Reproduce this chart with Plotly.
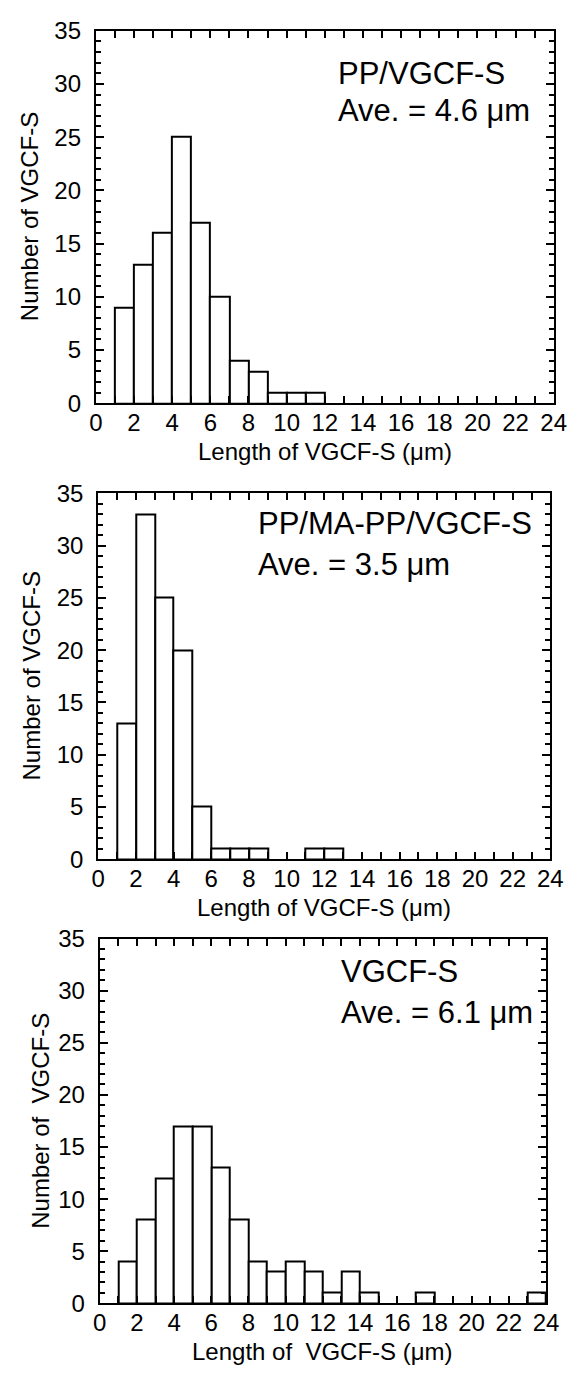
import plotly.graph_objects as go

# ---------------- data ----------------
pp_bin_left = [1, 2, 3, 4, 5, 6, 7, 8, 9, 10, 11]
pp_counts = [9, 13, 16, 25, 17, 10, 4, 3, 1, 1, 1]

ma_bin_left = [1, 2, 3, 4, 5, 6, 7, 8, 11, 12]
ma_counts = [13, 33, 25, 20, 5, 1, 1, 1, 1, 1]

v_bin_left = [1, 2, 3, 4, 5, 6, 7, 8, 9, 10, 11, 12, 13, 14, 17, 23]
v_counts = [4, 8, 12, 17, 17, 13, 8, 4, 3, 4, 3, 1, 3, 1, 1, 1]

panel_labels = ["PP/VGCF-S", "PP/MA-PP/VGCF-S", "VGCF-S"]
panel_aves = ["Ave. = 4.6 \u03bcm", "Ave. = 3.5 \u03bcm", "Ave. = 6.1 \u03bcm"]
x_titles = ["Length of VGCF-S (\u03bcm)", "Length of VGCF-S (\u03bcm)",
            "Length of \u00a0VGCF-S (\u03bcm)"]
y_titles = ["Number of VGCF-S", "Number of VGCF-S", "Number of \u00a0VGCF-S"]
x_tickvals = list(range(0, 25, 2))
y_tickvals = list(range(0, 36, 5))

# ---------------- layout geometry (pixels) ----------------
W, H = 587, 1383
panels_px = [  # left, right, top, bottom
    (92, 566, 17, 397),
    (94.5, 562.5, 489, 862),
    (96, 558, 943, 1315),
]
text_px = [  # label left x, label cap-center y, ave cap-center y
    (342, 61, 98),
    (259, 520, 561),
    (345, 977, 1018),
]
ytitle_x = [24, 25, 35]

FONT = "Arial, Liberation Sans, Helvetica, sans-serif"

fig = go.Figure()
series = [(pp_bin_left, pp_counts), (ma_bin_left, ma_counts), (v_bin_left, v_counts)]
annotations = []
for i, ((bl, cnt), (l, r, t, b)) in enumerate(zip(series, panels_px)):
    n = "" if i == 0 else str(i + 1)
    fig.add_trace(go.Bar(
        x=bl, y=cnt, width=1, offset=0,
        marker=dict(color="white", line=dict(color="black", width=2)),
        xaxis="x" + n, yaxis="y" + n, showlegend=False, hoverinfo="x+y",
    ))
    common = dict(showline=True, linecolor="black", linewidth=2, mirror="ticks",
                  ticks="inside", tickcolor="black", showgrid=False, zeroline=False,
                  tickfont=dict(family=FONT, size=24, color="black"))
    fig.update_layout(**{
        "xaxis" + n: dict(
            domain=[l / W, r / W], anchor="y" + n, range=[0, 24],
            tickmode="array", tickvals=x_tickvals, ticklen=7, tickwidth=2,
            minor=dict(dtick=1, ticks="inside", ticklen=7, tickwidth=2, tickcolor="black",
                       showgrid=False),
            ticklabelstandoff=-3,
            **common),
        "yaxis" + n: dict(
            domain=[1 - b / H, 1 - t / H], anchor="x" + n, range=[0, 35],
            tickmode="array", tickvals=y_tickvals, ticklen=8, tickwidth=2,
            minor=dict(dtick=1, ticks="inside", ticklen=5, tickwidth=1.5, tickcolor="black",
                       showgrid=False),
            ticklabelstandoff=8,
            **common),
    })
    lx, ly1, ly2 = text_px[i]
    for txt, cy in ((panel_labels[i], ly1), (panel_aves[i], ly2)):
        annotations.append(dict(
            text=txt, xref="paper", yref="paper", x=lx / W, y=1 - cy / H,
            xanchor="left", yanchor="middle", showarrow=False, borderpad=0,
            font=dict(family=FONT, size=31, color="black")))
    annotations.append(dict(
        text=x_titles[i], xref="paper", yref="paper", x=(l + r) / 2 / W,
        y=1 - (b + 49) / H, xanchor="center", yanchor="middle", showarrow=False,
        borderpad=0, font=dict(family=FONT, size=24, color="black")))
    annotations.append(dict(
        text=y_titles[i], xref="paper", yref="paper", x=ytitle_x[i] / W,
        y=1 - (t + b) / 2 / H, xanchor="center", yanchor="middle", textangle=-90,
        showarrow=False, borderpad=0, font=dict(family=FONT, size=24, color="black")))

fig.update_layout(
    width=W, height=H, autosize=False,
    margin=dict(l=0, r=0, t=0, b=0),
    paper_bgcolor="white", plot_bgcolor="white",
    bargap=0, annotations=annotations,
    font=dict(family=FONT, color="black"),
)

fig.write_html("out.html")
